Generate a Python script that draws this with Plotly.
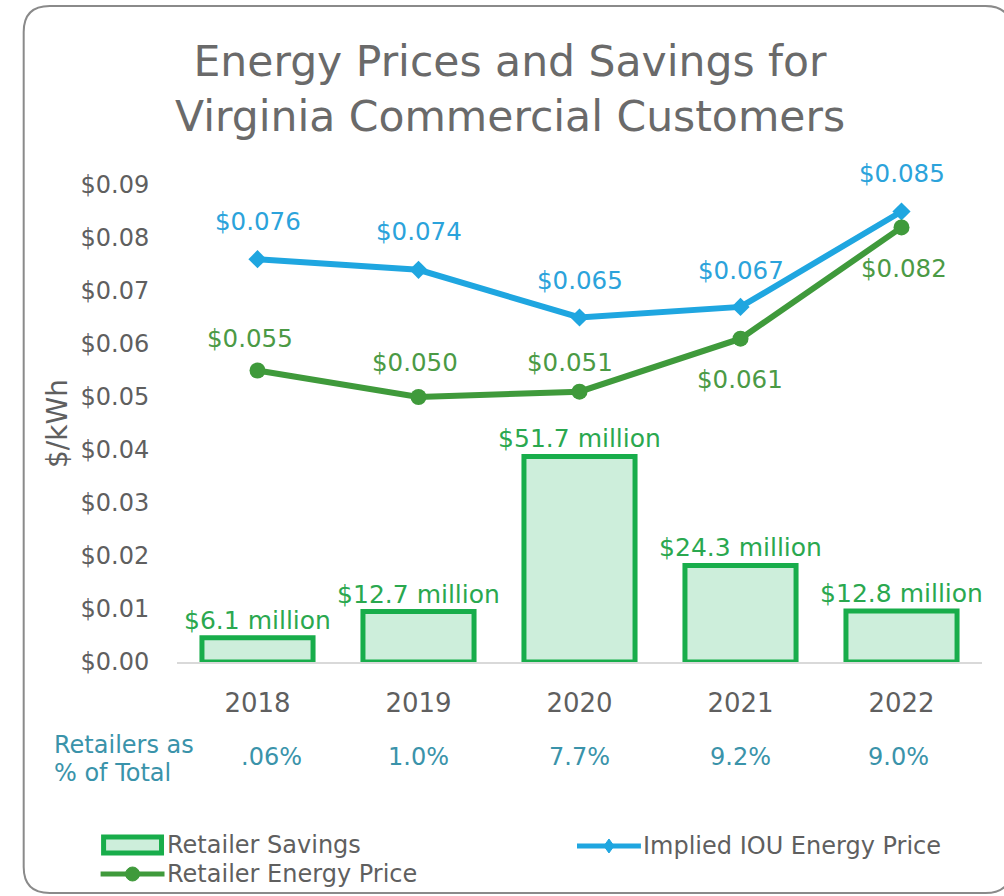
import plotly.graph_objects as go

# ---------------- data ----------------
years = ["2018", "2019", "2020", "2021", "2022"]
iou_price = [0.076, 0.074, 0.065, 0.067, 0.085]
retailer_price = [0.055, 0.050, 0.051, 0.061, 0.082]
savings_million = [6.1, 12.7, 51.7, 24.3, 12.8]
retailer_share = [".06%", "1.0%", "7.7%", "9.2%", "9.0%"]
y_ticks = [0.00, 0.01, 0.02, 0.03, 0.04, 0.05, 0.06, 0.07, 0.08, 0.09]
y_tick_labels = ["$%.2f" % v for v in y_ticks]

# ---------------- style ----------------
FONT = "DejaVu Sans, Verdana, sans-serif"
GRAY = "#5f5f5f"
BLUE = "#1fa6e0"
BLUE_TXT = "#2ba3db"
GREEN_LINE = "#3f9a3b"
GREEN_TXT = "#4b9a45"
BAR_LINE = "#18ad4b"
BAR_FILL = "#cdeedb"
BAR_TXT = "#2aa84f"
TEAL = "#3a93aa"

W, H = 1004, 896
L, R, T, B = 176.5, 982.5, 185, 662  # plot area in px


def px(x):
    return (x - L) / (R - L)


def py(y):
    return (B - y) / (B - T)


fig = go.Figure()

fig.add_trace(go.Bar(
    x=years, y=savings_million, yaxis="y2", name="Retailer Savings",
    width=0.69,
    marker=dict(color=BAR_FILL, line=dict(color=BAR_LINE, width=5)),
    text=["$%s million" % v for v in savings_million],
    textposition="outside", constraintext="none", cliponaxis=False,
    textfont=dict(family=FONT, size=25, color=BAR_TXT),
    showlegend=False,
))

fig.add_trace(go.Scatter(
    x=years, y=iou_price, name="Implied IOU Energy Price", mode="lines+markers",
    line=dict(color=BLUE, width=6),
    marker=dict(symbol="diamond", size=14, color=BLUE),
    showlegend=False, cliponaxis=False,
))
fig.add_trace(go.Scatter(
    x=years, y=retailer_price, name="Retailer Energy Price", mode="lines+markers",
    line=dict(color=GREEN_LINE, width=6),
    marker=dict(symbol="circle", size=16, color=GREEN_LINE),
    showlegend=False, cliponaxis=False,
))

annotations = []
# price labels
iou_shift = [38, 38, 37, 36, 38]
ret_shift = [32, 35, 29, -41, -41]
ret_xshift = [-8, -4, -10, -1, 2]
for i, v in enumerate(iou_price):
    annotations.append(dict(x=i, y=v, xref="x", yref="y", text="$%.3f" % v,
                            showarrow=False, yshift=iou_shift[i],
                            xanchor="center", yanchor="middle",
                            font=dict(family=FONT, size=24.5, color=BLUE_TXT)))
for i, v in enumerate(retailer_price):
    annotations.append(dict(x=i, y=v, xref="x", yref="y", text="$%.3f" % v,
                            showarrow=False, yshift=ret_shift[i], xshift=ret_xshift[i],
                            xanchor="center", yanchor="middle",
                            font=dict(family=FONT, size=24.5, color=GREEN_TXT)))
# share row
share_xshift = [14, 0, 0, 0, -3]
for i, s in enumerate(retailer_share):
    annotations.append(dict(x=i, y=py(757), xref="x", yref="paper", text=s,
                            showarrow=False, xanchor="center", yanchor="middle",
                            xshift=share_xshift[i],
                            font=dict(family=FONT, size=24, color=TEAL)))
for txt, yy in (("Retailers as", 745), ("% of Total", 773)):
    annotations.append(dict(x=px(51), y=py(yy), xref="paper", yref="paper",
                            text=txt, align="left",
                            xanchor="left", yanchor="middle", showarrow=False,
                            font=dict(family=FONT, size=24, color=TEAL)))

# title
annotations.append(dict(x=px(510), y=py(89), xref="paper", yref="paper",
                        text="Energy Prices and Savings for<br>Virginia Commercial Customers",
                        xanchor="center", yanchor="middle", showarrow=False,
                        font=dict(family=FONT, size=42.5, color="#6a6a6a")))

# manual legend
legend_items = [
    ("Retailer Savings", 100, 845, "bar"),
    ("Implied IOU Energy Price", 577, 846, "iou"),
    ("Retailer Energy Price", 100, 874, "ret"),
]
shapes = []
for name, x0, yc, kind in legend_items:
    annotations.append(dict(x=px(x0 + 64), y=py(yc), xref="paper", yref="paper",
                            text=name, xanchor="left", yanchor="middle", showarrow=False,
                            font=dict(family=FONT, size=24, color=GRAY)))
    if kind == "bar":
        shapes.append(dict(type="rect", xref="paper", yref="paper",
                           x0=px(x0 + 3), x1=px(x0 + 61), y0=py(yc - 8), y1=py(yc + 8),
                           line=dict(color=BAR_LINE, width=5), fillcolor=BAR_FILL))
    else:
        col = BLUE if kind == "iou" else GREEN_LINE
        shapes.append(dict(type="line", xref="paper", yref="paper",
                           x0=px(x0), x1=px(x0 + 64), y0=py(yc), y1=py(yc),
                           line=dict(color=col, width=5)))
        cx = x0 + 32
        if kind == "iou":
            path = "M %f %f L %f %f L %f %f L %f %f Z" % (
                px(cx - 5), py(yc), px(cx), py(yc - 7), px(cx + 5), py(yc), px(cx), py(yc + 7))
            shapes.append(dict(type="path", xref="paper", yref="paper", path=path,
                               fillcolor=col, line=dict(color=col, width=1)))
        else:
            shapes.append(dict(type="circle", xref="paper", yref="paper",
                               x0=px(cx - 7), x1=px(cx + 7), y0=py(yc - 7), y1=py(yc + 7),
                               fillcolor=col, line=dict(color=col, width=1)))

# rounded border
bx0, bx1, by0, by1, r = 23, 1012, 6, 893, 26
border = ("M %f %f L %f %f Q %f %f %f %f L %f %f Q %f %f %f %f "
          "L %f %f Q %f %f %f %f L %f %f Q %f %f %f %f Z") % (
    px(bx0 + r), py(by0), px(bx1 - r), py(by0), px(bx1), py(by0), px(bx1), py(by0 + r),
    px(bx1), py(by1 - r), px(bx1), py(by1), px(bx1 - r), py(by1),
    px(bx0 + r), py(by1), px(bx0), py(by1), px(bx0), py(by1 - r),
    px(bx0), py(by0 + r), px(bx0), py(by0), px(bx0 + r), py(by0))
shapes.append(dict(type="path", xref="paper", yref="paper", path=border,
                   line=dict(color="#8a8a8a", width=2), layer="below"))

fig.update_layout(
    width=W, height=H,
    margin=dict(l=L, r=W - R, t=T, b=H - B, pad=0),
    paper_bgcolor="white", plot_bgcolor="white",
    xaxis=dict(type="category", range=[-0.5, 4.5], showgrid=False, zeroline=False,
               showline=True, linecolor="#d9d9d9", linewidth=2,
               ticks="outside", ticklen=17, tickcolor="rgba(0,0,0,0)",
               tickfont=dict(family=FONT, size=26, color=GRAY)),
    yaxis=dict(range=[0, 0.09], tickvals=y_ticks, ticktext=y_tick_labels,
               showgrid=False, zeroline=False, showline=False,
               ticks="outside", ticklen=22, tickcolor="rgba(0,0,0,0)",
               tickfont=dict(family=FONT, size=24, color=GRAY),
               title=dict(text="$/kWh", standoff=4,
                          font=dict(family=FONT, size=28, color=GRAY))),
    yaxis2=dict(range=[0, 120], overlaying="y", visible=False),
    annotations=annotations, shapes=shapes, showlegend=False,
)

fig.write_html("out.html", config={"displayModeBar": False},
               post_script="document.body.style.margin='0px';document.body.style.overflow='hidden';")
